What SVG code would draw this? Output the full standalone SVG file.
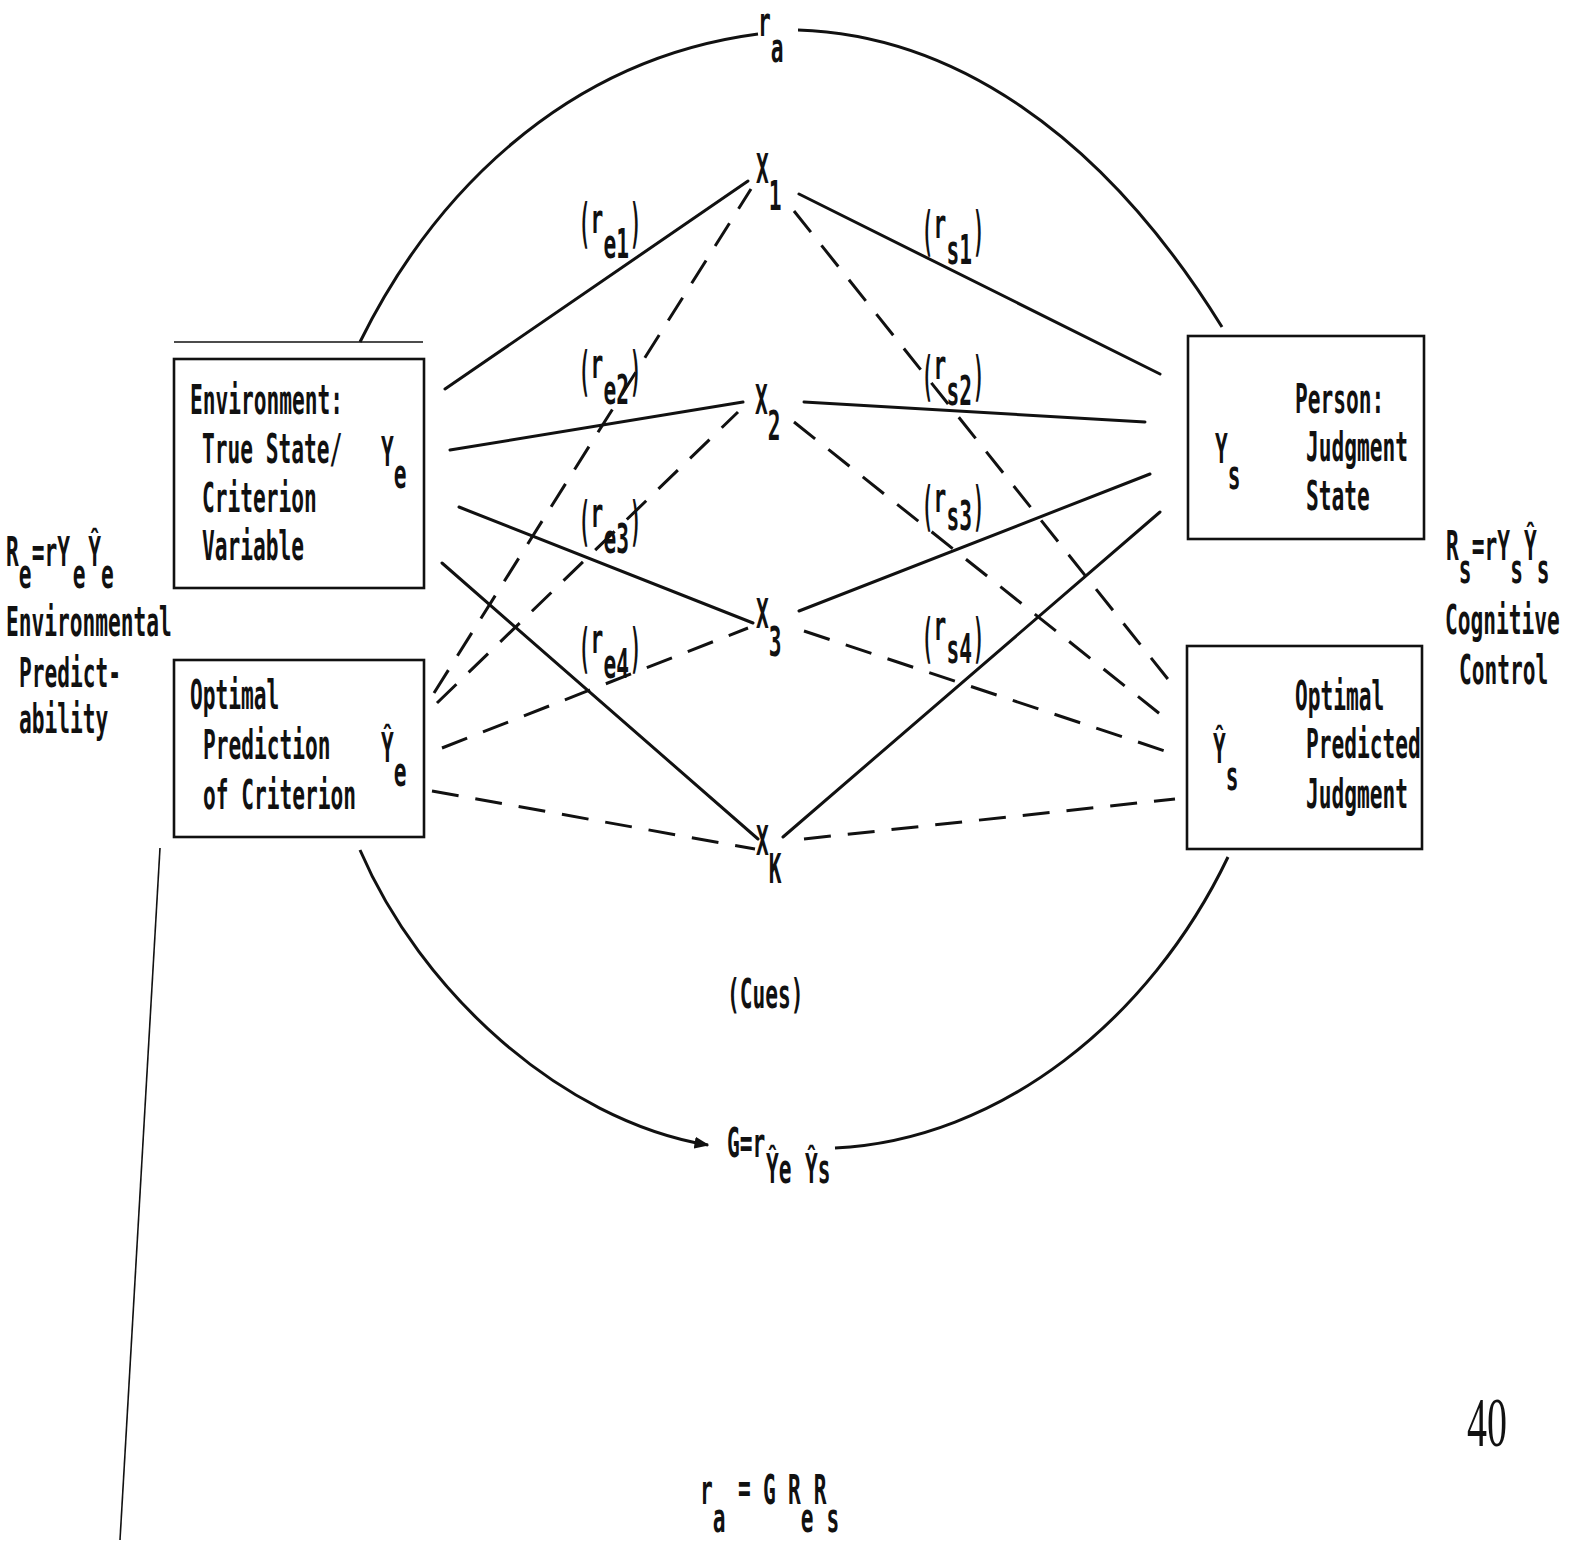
<svg xmlns="http://www.w3.org/2000/svg" width="1575" height="1542" viewBox="0 0 1575 1542">
<style>
.t{font-family:"DejaVu Sans Mono","Liberation Mono",monospace;font-size:40px;font-weight:bold;fill:#111}
.p{font-size:54px}
.box{fill:none;stroke:#111;stroke-width:2.6}
.s{fill:none;stroke:#111;stroke-width:3;stroke-linecap:round}
.d{fill:none;stroke:#111;stroke-width:3;stroke-dasharray:27 17}
.arc{fill:none;stroke:#111;stroke-width:3}
.thin{fill:none;stroke:#111;stroke-width:1.6}
</style>
<defs>
<marker id="ah" viewBox="0 0 10 10" refX="9" refY="5" markerWidth="5" markerHeight="5" orient="auto">
<path d="M0,1 L10,5 L0,9 z" fill="#111"/>
</marker>
</defs>
<rect width="1575" height="1542" fill="#fff"/>

<g id="connectors">
<path class="arc" d="M360,342 C430,200 560,60 758,34"/>
<path class="arc" d="M798,30 C950,35 1100,130 1222,327"/>
<path class="arc" d="M360,850 C420,990 560,1120 708,1145" marker-end="url(#ah)"/>
<path class="arc" d="M835,1148 C1000,1140 1150,1020 1228,857"/>
<line class="thin" x1="174" y1="342" x2="423" y2="342"/>
<line class="thin" x1="160" y1="848" x2="120" y2="1540"/>
<line class="s" x1="445" y1="389" x2="748" y2="181"/>
<line class="s" x1="450" y1="450" x2="743" y2="402"/>
<line class="s" x1="459" y1="507" x2="753" y2="623"/>
<line class="s" x1="442" y1="563" x2="758" y2="839"/>
<line class="d" x1="434" y1="693" x2="751" y2="189"/>
<line class="d" x1="437" y1="703" x2="738" y2="412"/>
<line class="d" x1="442" y1="748" x2="748" y2="628"/>
<line class="d" x1="432" y1="791" x2="755" y2="849"/>
<line class="s" x1="799" y1="194" x2="1160" y2="374"/>
<line class="s" x1="804" y1="402" x2="1145" y2="422"/>
<line class="s" x1="799" y1="611" x2="1150" y2="474"/>
<line class="s" x1="783" y1="837" x2="1160" y2="512"/>
<line class="d" x1="794" y1="211" x2="1175" y2="688"/>
<line class="d" x1="794" y1="422" x2="1165" y2="718"/>
<line class="d" x1="804" y1="631" x2="1165" y2="751"/>
<line class="d" x1="804" y1="839" x2="1175" y2="799"/>
</g>

<g id="environment">
<rect class="box" x="174" y="359" width="250" height="229"/>
<text class="t" transform="translate(190,414) scale(0.53,1)">Environment:</text>
<text class="t" transform="translate(202,463) scale(0.53,1)">True State/</text>
<text class="t" transform="translate(202,512) scale(0.53,1)">Criterion</text>
<text class="t" transform="translate(202,560) scale(0.53,1)">Variable</text>
<text class="t" transform="translate(381,466) scale(0.53,1)"><tspan x="0" y="0">Y</tspan><tspan x="24.3" y="22">e</tspan></text>
</g>

<g id="optimal-prediction">
<rect class="box" x="174" y="660" width="250" height="177"/>
<text class="t" transform="translate(190,709) scale(0.53,1)">Optimal</text>
<text class="t" transform="translate(203,759) scale(0.53,1)">Prediction</text>
<text class="t" transform="translate(203,809) scale(0.53,1)">of Criterion</text>
<text class="t" transform="translate(381,762) scale(0.53,1)"><tspan x="0" y="0">Ŷ</tspan><tspan x="24.3" y="24">e</tspan></text>
</g>

<g id="person">
<rect class="box" x="1188" y="336" width="236" height="203"/>
<text class="t" transform="translate(1295,413) scale(0.53,1)">Person:</text>
<text class="t" transform="translate(1306,461) scale(0.53,1)">Judgment</text>
<text class="t" transform="translate(1306,510) scale(0.53,1)">State</text>
<text class="t" transform="translate(1215,463) scale(0.53,1)"><tspan x="0" y="0">Y</tspan><tspan x="24.3" y="26">s</tspan></text>
</g>

<g id="optimal-predicted-judgment">
<rect class="box" x="1187" y="646" width="235" height="203"/>
<text class="t" transform="translate(1295,710) scale(0.53,1)">Optimal</text>
<text class="t" transform="translate(1306,758) scale(0.53,1)">Predicted</text>
<text class="t" transform="translate(1306,808) scale(0.53,1)">Judgment</text>
<text class="t" transform="translate(1213,763) scale(0.53,1)"><tspan x="0" y="0">Ŷ</tspan><tspan x="24.3" y="27">s</tspan></text>
</g>

<g id="env-predictability">
<text class="t" transform="translate(6,566) scale(0.53,1)"><tspan x="0" y="0">R</tspan><tspan x="24.3" y="22">e</tspan><tspan x="48.6" y="0">=rY</tspan><tspan x="126" y="22">e</tspan><tspan x="155" y="0">Ŷ</tspan><tspan x="179.3" y="22">e</tspan></text>
<text class="t" transform="translate(6,636) scale(0.53,1)">Environmental</text>
<text class="t" transform="translate(19,687) scale(0.53,1)">Predict-</text>
<text class="t" transform="translate(19,733) scale(0.53,1)">ability</text>
</g>

<g id="cognitive-control">
<text class="t" transform="translate(1446,560) scale(0.53,1)"><tspan x="0" y="0">R</tspan><tspan x="24.3" y="23">s</tspan><tspan x="48.6" y="0">=rY</tspan><tspan x="121" y="23">s</tspan><tspan x="147" y="0">Ŷ</tspan><tspan x="171.3" y="23">s</tspan></text>
<text class="t" transform="translate(1445,634) scale(0.53,1)">Cognitive</text>
<text class="t" transform="translate(1459,684) scale(0.53,1)">Control</text>
</g>

<g id="ra-top">
<text class="t" transform="translate(758,36) scale(0.53,1)"><tspan x="0" y="0">r</tspan><tspan x="24.3" y="26">a</tspan></text>
</g>

<g id="x1">
<text class="t" transform="translate(756,183) scale(0.53,1)"><tspan x="0" y="0">X</tspan><tspan x="24.3" y="27">1</tspan></text>
</g>
<g id="x2">
<text class="t" transform="translate(755,414) scale(0.53,1)"><tspan x="0" y="0">X</tspan><tspan x="24.3" y="26">2</tspan></text>
</g>
<g id="x3">
<text class="t" transform="translate(756,628) scale(0.53,1)"><tspan x="0" y="0">X</tspan><tspan x="24.3" y="28">3</tspan></text>
</g>
<g id="xk">
<text class="t" transform="translate(756,855) scale(0.53,1)"><tspan x="0" y="0">X</tspan><tspan x="24.3" y="28">K</tspan></text>
</g>

<g id="re1">
<text class="t p" transform="translate(579,242) scale(0.34,1)">(</text>
<text class="t" transform="translate(590.5,242) scale(0.53,1)"><tspan x="0" y="-9">r</tspan><tspan x="24.6" y="16">e1</tspan></text>
<text class="t p" transform="translate(630,242) scale(0.34,1)">)</text>
</g>
<g id="re2">
<text class="t p" transform="translate(579,390) scale(0.34,1)">(</text>
<text class="t" transform="translate(590.5,390) scale(0.53,1)"><tspan x="0" y="-12">r</tspan><tspan x="24.6" y="14">e2</tspan></text>
<text class="t p" transform="translate(630,390) scale(0.34,1)">)</text>
</g>
<g id="re3">
<text class="t p" transform="translate(579,540) scale(0.34,1)">(</text>
<text class="t" transform="translate(590.5,540) scale(0.53,1)"><tspan x="0" y="-13">r</tspan><tspan x="24.6" y="13">e3</tspan></text>
<text class="t p" transform="translate(630,540) scale(0.34,1)">)</text>
</g>
<g id="re4">
<text class="t p" transform="translate(579,667) scale(0.34,1)">(</text>
<text class="t" transform="translate(590.5,667) scale(0.53,1)"><tspan x="0" y="-14">r</tspan><tspan x="24.6" y="11">e4</tspan></text>
<text class="t p" transform="translate(630,667) scale(0.34,1)">)</text>
</g>
<g id="rs1">
<text class="t p" transform="translate(922,250) scale(0.34,1)">(</text>
<text class="t" transform="translate(933.5,250) scale(0.53,1)"><tspan x="0" y="-12">r</tspan><tspan x="24.6" y="14">s1</tspan></text>
<text class="t p" transform="translate(973,250) scale(0.34,1)">)</text>
</g>
<g id="rs2">
<text class="t p" transform="translate(922,395) scale(0.34,1)">(</text>
<text class="t" transform="translate(933.5,395) scale(0.53,1)"><tspan x="0" y="-16">r</tspan><tspan x="24.6" y="10">s2</tspan></text>
<text class="t p" transform="translate(973,395) scale(0.34,1)">)</text>
</g>
<g id="rs3">
<text class="t p" transform="translate(922,525) scale(0.34,1)">(</text>
<text class="t" transform="translate(933.5,525) scale(0.53,1)"><tspan x="0" y="-13">r</tspan><tspan x="24.6" y="5">s3</tspan></text>
<text class="t p" transform="translate(973,525) scale(0.34,1)">)</text>
</g>
<g id="rs4">
<text class="t p" transform="translate(922,657) scale(0.34,1)">(</text>
<text class="t" transform="translate(933.5,657) scale(0.53,1)"><tspan x="0" y="-17">r</tspan><tspan x="24.6" y="6">s4</tspan></text>
<text class="t p" transform="translate(973,657) scale(0.34,1)">)</text>
</g>

<g id="cues">
<text class="t" transform="translate(727,1008) scale(0.53,1)">(Cues)</text>
</g>

<g id="g-label">
<text class="t" transform="translate(727,1157) scale(0.53,1)"><tspan x="0" y="0">G=r</tspan><tspan x="73.6" y="26">Ŷe</tspan><tspan x="147" y="26">Ŷs</tspan></text>
</g>

<g id="ra-formula">
<text class="t" transform="translate(700,1504) scale(0.53,1)"><tspan x="0" y="0">r</tspan><tspan x="24.3" y="28">a</tspan><tspan x="71.7" y="-2">=</tspan><tspan x="118.9" y="0">G</tspan><tspan x="166" y="0">R</tspan><tspan x="190.3" y="28">e</tspan><tspan x="214.6" y="0">R</tspan><tspan x="238.9" y="28">s</tspan></text>
</g>

<text x="1467" y="1446" font-family="Liberation Serif, serif" font-size="70" textLength="40" lengthAdjust="spacingAndGlyphs" fill="#111">40</text>
</svg>
